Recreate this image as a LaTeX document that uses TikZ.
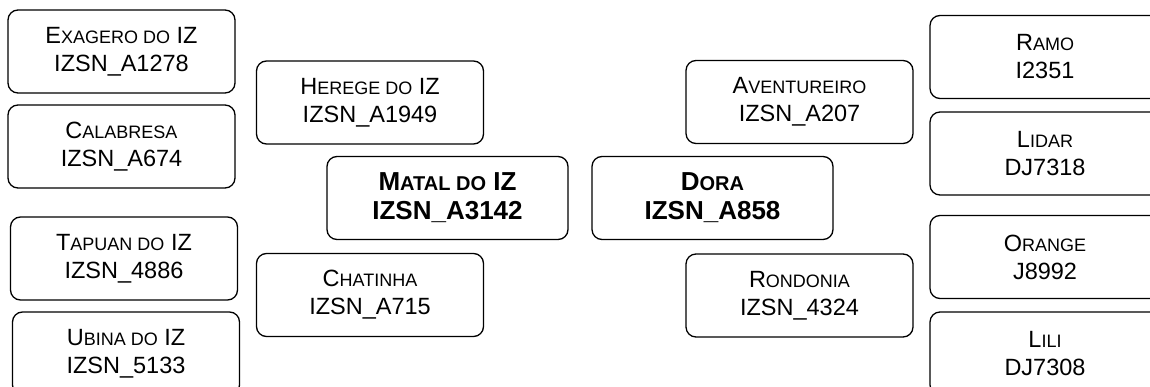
\documentclass[tikz,border=0pt]{standalone}
\usepackage{fontspec}
\setmainfont{Liberation Sans}
\newcommand\smr[1]{{\fontsize{18}{20}\selectfont #1}}
\newcommand\smb[1]{{\fontsize{20}{20}\selectfont #1}}
\tikzset{
  box/.style={draw, rounded corners=10pt, line width=1.3pt, minimum width=227pt,
    minimum height=83pt, align=center, inner sep=0pt,
    font=\fontsize{23.5}{28}\selectfont},
  mainbox/.style={box, minimum width=241pt, font=\fontsize{26}{29}\selectfont\bfseries},
  rbox/.style={box, minimum width=230pt}
}
\begin{document}
\begin{tikzpicture}[x=1pt,y=-1pt]
\useasboundingbox (0,0) rectangle (1150,387);
% left column
\node[box] (exagero) at (121.5,51.5) {E\smr{XAGERO DO} IZ\\IZSN\_A1278};
\node[box] (calabresa) at (121.5,146.5) {C\smr{ALABRESA}\\IZSN\_A674};
\node[box] (tapuan) at (124,258.5) {T\smr{APUAN DO} IZ\\IZSN\_4886};
\node[box] (ubina) at (126,353.5) {U\smr{BINA DO} IZ\\IZSN\_5133};
% centre left
\node[box] (herege) at (370,102.5) {H\smr{EREGE DO} IZ\\IZSN\_A1949};
\node[mainbox] (matal) at (447.5,198) {M\smb{ATAL DO} IZ\\IZSN\_A3142};
\node[box] (chatinha) at (370,295) {C\smr{HATINHA}\\IZSN\_A715};
% centre right
\node[box] (aventureiro) at (799.5,102) {A\smr{VENTUREIRO}\\IZSN\_A207};
\node[mainbox] (dora) at (712.5,198) {D\smb{ORA}\\IZSN\_A858};
\node[box] (rondonia) at (799.5,295.5) {R\smr{ONDONIA}\\IZSN\_4324};
% right column
\node[rbox] (ramo) at (1045,57) {R\smr{AMO}\\I2351};
\node[rbox] (lidar) at (1045,153.5) {L\smr{IDAR}\\DJ7318};
\node[rbox] (orange) at (1045,257) {O\smr{RANGE}\\J8992};
\node[rbox] (lili) at (1045,353.5) {L\smr{ILI}\\DJ7308};
\end{tikzpicture}
\end{document}
